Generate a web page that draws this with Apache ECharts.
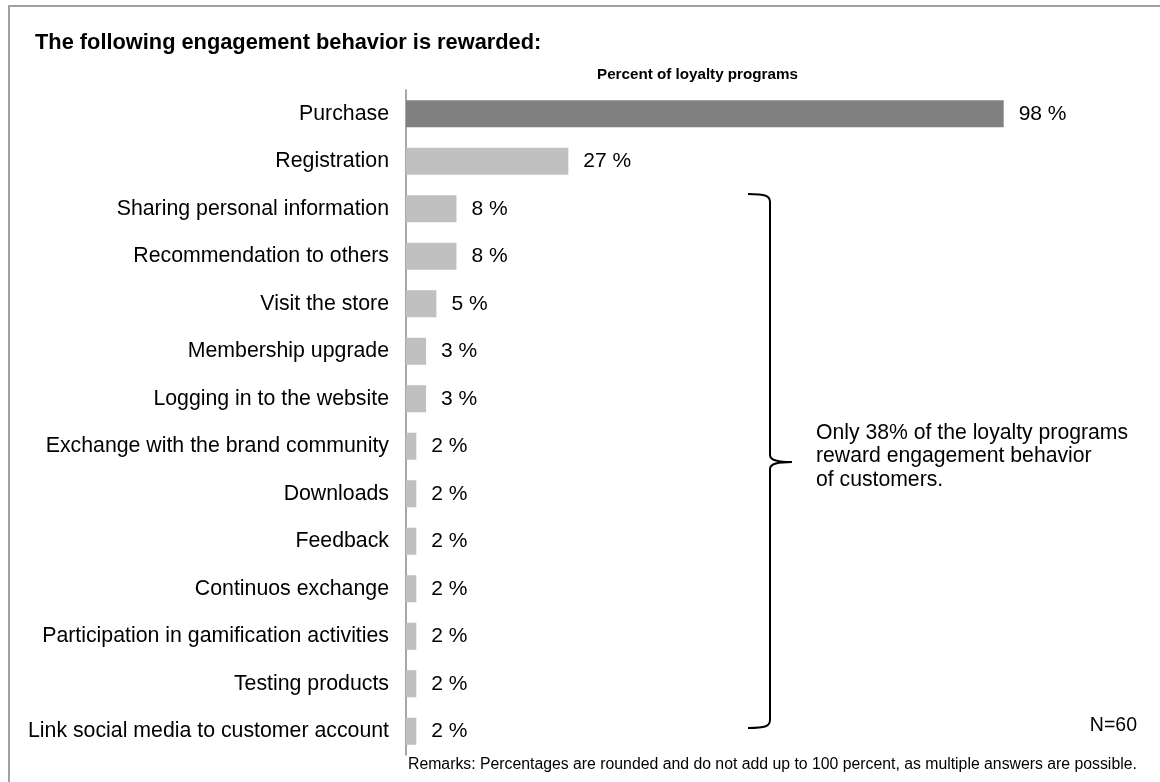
<!DOCTYPE html>
<html>
<head>
<meta charset="utf-8">
<script src="https://cdn.jsdelivr.net/npm/echarts@6/dist/echarts.min.js"></script>
<style>
  html, body { margin: 0; padding: 0; background: #fff; }
  #chart { width: 1160px; height: 782px; }
</style>
</head>
<body>
<div id="chart"></div>
<script>
// behaviours, top to bottom
const categories = [
  'Purchase',
  'Registration',
  'Sharing personal information',
  'Recommendation to others',
  'Visit the store',
  'Membership upgrade',
  'Logging in to the website',
  'Exchange with the brand community',
  'Downloads',
  'Feedback',
  'Continuos exchange',
  'Participation in gamification activities',
  'Testing products',
  'Link social media to customer account'
]
// share of programs (N=60), labels are rounded
const values = [98.3, 26.7, 8.3, 8.3, 5.0, 3.3, 3.3, 1.7, 1.7, 1.7, 1.7, 1.7, 1.7, 1.7]
const titleText = 'The following engagement behavior is rewarded:'
const axisTitle = 'Percent of loyalty programs'
const noteLines = ['Only 38% of the loyalty programs', 'reward engagement behavior', 'of customers.']
const sampleText = 'N=60'
const remarkText = 'Remarks: Percentages are rounded and do not add up to 100 percent, as multiple answers are possible.'

const font = '"Liberation Sans", Arial, sans-serif'
const chart = echarts.init(document.getElementById('chart'))

// curly brace pieces
const braceStyle = { stroke: '#000', lineWidth: 2, fill: null }
const brace = [
  { type: 'bezierCurve', shape: { x1: 748, y1: 194, cpx1: 766, cpy1: 194, cpx2: 770, cpy2: 196, x2: 770, y2: 202 }, style: braceStyle },
  { type: 'line', shape: { x1: 770, y1: 202, x2: 770, y2: 455 }, style: braceStyle },
  { type: 'bezierCurve', shape: { x1: 770, y1: 455, cpx1: 770, cpy1: 460, cpx2: 776, cpy2: 462, x2: 792, y2: 462 }, style: braceStyle },
  { type: 'bezierCurve', shape: { x1: 792, y1: 462, cpx1: 776, cpy1: 462, cpx2: 770, cpy2: 464, x2: 770, y2: 469 }, style: braceStyle },
  { type: 'line', shape: { x1: 770, y1: 469, x2: 770, y2: 720 }, style: braceStyle },
  { type: 'bezierCurve', shape: { x1: 770, y1: 720, cpx1: 770, cpy1: 726, cpx2: 766, cpy2: 728, x2: 748, y2: 728 }, style: braceStyle }
]

chart.setOption({
  animation: false,
  textStyle: { fontFamily: font },
  grid: { left: 406, right: 146, top: 90, bottom: 27 },
  xAxis: {
    type: 'value',
    min: 0,
    max: 100,
    show: false
  },
  yAxis: {
    type: 'category',
    inverse: true,
    data: categories,
    axisLine: { show: true, lineStyle: { color: '#8a8a8a', width: 1.5 } },
    axisTick: { show: false },
    axisLabel: { color: '#000', fontSize: 21.3, margin: 17, fontFamily: font }
  },
  series: [
    {
      type: 'bar',
      data: values.map((v, i) => ({
        value: v,
        itemStyle: { color: i === 0 ? '#808080' : '#c0c0c0' }
      })),
      barCategoryGap: '43%',
      label: {
        show: true,
        position: 'right',
        distance: 15,
        color: '#000',
        fontSize: 21,
        fontFamily: font,
        formatter: p => Math.round(p.value) + ' %'
      }
    }
  ],
  graphic: [
    {
      type: 'polyline',
      shape: { points: [[9, 800], [9, 6], [1170, 6]] },
      style: { stroke: '#a0a0a0', lineWidth: 2, fill: null }
    },
    {
      type: 'text',
      left: 35,
      top: 32,
      style: { text: titleText, font: 'bold 21.8px ' + font, fill: '#000' }
    },
    {
      type: 'text',
      left: 597,
      top: 67,
      style: { text: axisTitle, font: 'bold 15.2px ' + font, fill: '#000' }
    },
    ...brace,
    {
      type: 'text',
      left: 816,
      top: 421,
      style: { text: noteLines.join('\n'), font: '21.2px ' + font, lineHeight: 23.5, fill: '#000' }
    },
    {
      type: 'text',
      right: 23,
      top: 716,
      style: { text: sampleText, font: '19.5px ' + font, fill: '#000' }
    },
    {
      type: 'text',
      left: 408,
      top: 757,
      style: { text: remarkText, font: '15.8px ' + font, fill: '#000' }
    }
  ]
})
</script>
</body>
</html>
